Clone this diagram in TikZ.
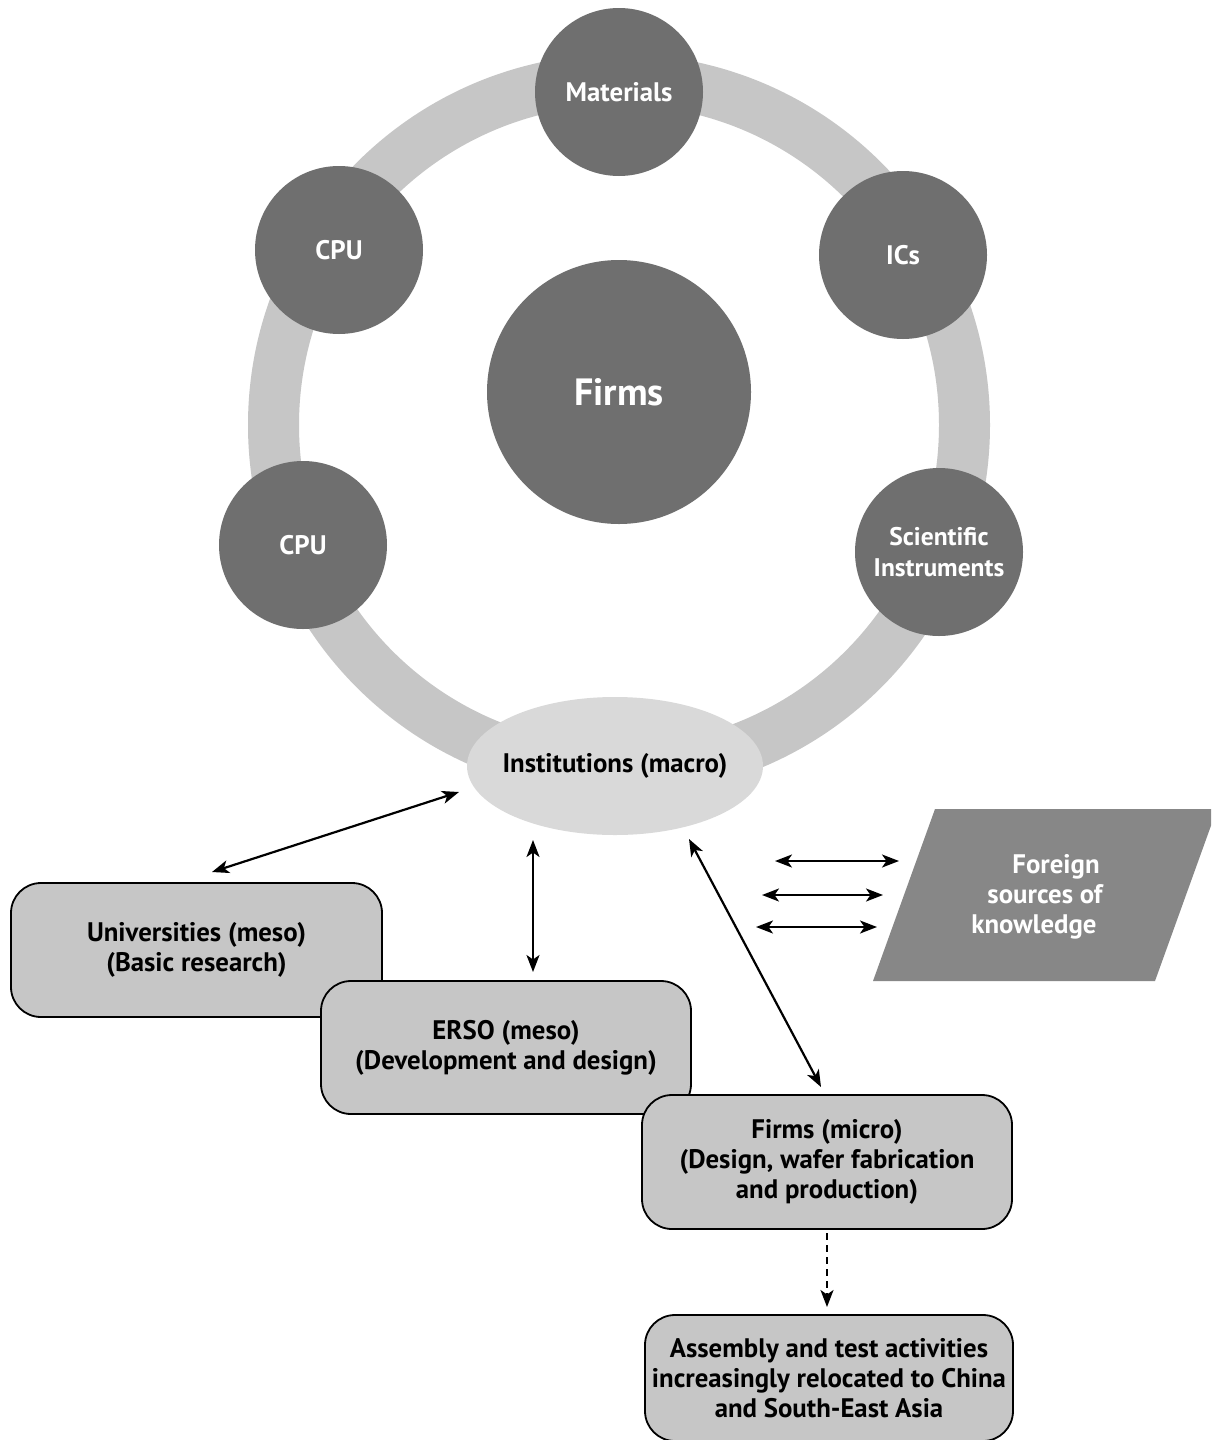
\documentclass[tikz,border=0pt]{standalone}
\usepackage{fontspec}
\setmainfont{PT Sans}
\usetikzlibrary{arrows.meta,shapes.geometric}
\definecolor{darkdisc}{HTML}{6F6F6F}
\definecolor{ringgray}{HTML}{C6C6C6}
\definecolor{instgray}{HTML}{D9D9D9}
\definecolor{boxgray}{HTML}{C6C6C6}
\definecolor{foreigngray}{HTML}{878787}
\begin{document}
\begin{tikzpicture}[x=1pt,y=-1pt,
  txt/.style={font=\fontsize{26.8}{30}\selectfont\bfseries, align=center},
  disc/.style={txt, circle, fill=darkdisc, minimum size=168pt, inner sep=0pt, text=white},
  rbox/.style={txt, draw=black, line width=1.8pt, fill=boxgray, rounded corners=30pt, inner sep=0pt},
  link/.style={line width=2.2pt, {Stealth[length=17pt,width=13pt,inset=4.5pt]}-{Stealth[length=17pt,width=13pt,inset=4.5pt]}},
  droplink/.style={line width=2.2pt, dashed, dash pattern=on 7pt off 5pt, -{Stealth[length=17pt,width=13pt,inset=4.5pt]}}
]
\useasboundingbox (0,0) rectangle (1211,1440);
\clip (0,0) rectangle (1211,1440);
\fill[white] (0,0) rectangle (1211,1440);

% ring
\draw[ringgray, line width=51pt] (619,425) circle[radius=345.5pt];

% discs
\node[disc] (materials) at (619,92) {Materials};
\node[disc] (cpuA) at (339,250) {CPU};
\node[disc] (ics) at (903,255) {ICs};
\node[disc] (cpuB) at (303,545) {CPU};
\node[disc, font=\fontsize{25.5}{31}\selectfont\bfseries] (sci) at (939,552) {Scientific\\Instruments};
\node[disc, minimum size=264pt, font=\fontsize{38}{40}\selectfont\bfseries] (firms) at (619,392) {Firms};

% institutions
\node[txt, ellipse, fill=instgray, minimum width=296pt, minimum height=138pt, inner sep=0pt] (inst) at (615,766) {\makebox[0pt]{Institutions (macro)}};

% foreign sources
\fill[foreigngray] (935,809) -- (1217,809) -- (1155,981) -- (873,981) -- cycle;
\node[txt, text=white] (foreign) at (1045,897) {\hspace*{22pt}Foreign\\sources of\\knowledge\hspace*{22pt}};

% boxes
\node[rbox, minimum width=371pt, minimum height=134pt] (univ) at (196.5,950) {Universities (meso)\\(Basic research)};
\node[rbox, minimum width=370pt, minimum height=133pt] (erso) at (506,1047.5) {ERSO (meso)\\(Development and design)};
\node[rbox, minimum width=370pt, minimum height=134pt] (micro) at (827,1162) {Firms (micro)\\(Design, wafer fabrication\\and production)};
\node[rbox, minimum width=368pt, minimum height=126pt] (assembly) at (829,1378) {Assembly and test activities\\increasingly relocated to China\\and South-East Asia};

% connector end points
\coordinate (uA) at (212,872);
\coordinate (uB) at (459,792);
\coordinate (eA) at (533,840);
\coordinate (eB) at (533,972);
\coordinate (mA) at (689,839);
\coordinate (mB) at (821,1087);
\coordinate (f1a) at (775,861);
\coordinate (f1b) at (899,861);
\coordinate (f2a) at (762,895);
\coordinate (f2b) at (883,895);
\coordinate (f3a) at (756,927);
\coordinate (f3b) at (877,927);
\coordinate (dA) at (827,1233);
\coordinate (dB) at (827,1307);

\draw[link] (uA) -- (uB);
\draw[link] (eA) -- (eB);
\draw[link] (mA) -- (mB);
\draw[link] (f1a) -- (f1b);
\draw[link] (f2a) -- (f2b);
\draw[link] (f3a) -- (f3b);
\draw[droplink] (dA) -- (dB);
\end{tikzpicture}
\end{document}
